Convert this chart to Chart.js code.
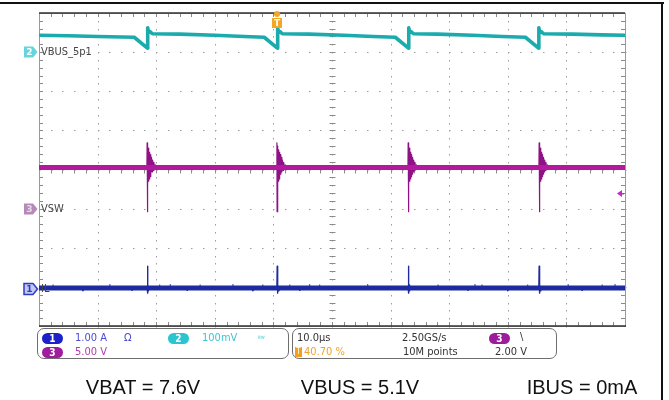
<!DOCTYPE html>
<html>
<head>
<meta charset="utf-8">
<script src="https://cdn.jsdelivr.net/npm/chart.js@4.4.0/dist/chart.umd.min.js"></script>
<style>
body { margin: 0; background: #fff; }
#wrap { position: relative; width: 669px; height: 400px; overflow: hidden; font-family: "DejaVu Sans Condensed", "DejaVu Sans", sans-serif; }
#wrap canvas { position: absolute; left: 0; top: 0; }
.frame-top { position: absolute; left: 0; top: 2px; width: 664px; border-top: 2px solid #111; }
.frame-right { position: absolute; left: 661px; top: 2px; height: 400px; border-left: 2px solid #111; }
.box { position: absolute; top: 328px; height: 29px; border: 1.5px solid #6e6e6e; border-radius: 7px; }
.t { position: absolute; font-size: 11px; line-height: 12px; white-space: nowrap; }
.oval { position: absolute; width: 21px; height: 11px; border-radius: 6px; color: #fff; font-size: 10px; line-height: 11px; text-align: center; font-weight: bold; }
.cap { position: absolute; top: 377px; width: 200px; text-align: center; font-family: "Liberation Sans", Arial, sans-serif; font-size: 20px; line-height: 20px; color: #111; }
</style>
</head>
<body>
<div id="wrap">
  <canvas id="scope" width="669" height="400"></canvas>
  <div class="frame-top"></div>
  <div class="frame-right"></div>

  <div class="box" style="left:37px;width:250px;"></div>
  <div class="oval" style="left:42px;top:333px;background:#1c22c8;">1</div>
  <div class="t" style="left:75px;top:332px;color:#4a4ad4;">1.00 A</div>
  <div class="t" style="left:124px;top:332px;color:#4a4ad4;">Ω</div>
  <div class="oval" style="left:168px;top:333px;background:#2cc4cf;">2</div>
  <div class="t" style="left:202px;top:332px;color:#3cc6d0;">100mV</div>
  <div class="t" style="left:258px;top:333px;color:#3cc6d0;font-size:7px;">ᴮᵂ</div>
  <div class="oval" style="left:42px;top:347px;background:#a01c9e;">3</div>
  <div class="t" style="left:75px;top:346px;color:#b03aae;">5.00 V</div>

  <div class="box" style="left:292px;width:263px;"></div>
  <div class="t" style="left:297px;top:332px;color:#333;">10.0µs</div>
  <div class="t" style="left:295px;top:347px;width:7px;height:10px;background:#f0a020;color:#fff;font-size:8px;line-height:10px;text-align:center;">T</div>
  <div class="t" style="left:304px;top:346px;color:#f2a22a;">40.70 %</div>
  <div class="t" style="left:402px;top:332px;color:#333;">2.50GS/s</div>
  <div class="t" style="left:403px;top:346px;color:#333;">10M points</div>
  <div class="oval" style="left:489px;top:333px;background:#9c1c9c;">3</div>
  <div class="t" style="left:520px;top:331px;color:#333;">\</div>
  <div class="t" style="left:495px;top:346px;color:#333;">2.00 V</div>

  <div class="cap" style="left:43px;">VBAT = 7.6V</div>
  <div class="cap" style="left:260px;">VBUS = 5.1V</div>
  <div class="cap" style="left:482px;">IBUS = 0mA</div>
</div>
<script>
// screen: 10 div x 10us, 8 vertical div
const timeMin = 0, timeMax = 100;
const divMin = -4, divMax = 4;

// channel 2 - VBUS_5p1 (time us, level in div)
const vbusTime = [0, 5, 10, 16.25, 18.5, 18.55, 18.7, 18.9, 19.35, 24, 30, 35,
  38.43, 40.68, 40.73, 40.88, 41.08, 41.53, 46, 52, 57,
  60.8, 63.05, 63.1, 63.25, 63.45, 63.9, 68, 74, 79,
  83.0, 85.25, 85.3, 85.45, 85.65, 86.1, 91, 96, 100];
const vbusLevel = [3.43, 3.42, 3.40, 3.38, 3.10, 3.62, 3.50, 3.53, 3.47, 3.46, 3.43, 3.40,
  3.38, 3.10, 3.62, 3.50, 3.53, 3.47, 3.46, 3.43, 3.40,
  3.38, 3.10, 3.62, 3.50, 3.53, 3.47, 3.46, 3.43, 3.40,
  3.38, 3.10, 3.62, 3.50, 3.53, 3.47, 3.46, 3.44, 3.43];

// channel 3 - VSW
const vswBase = 0.05;
const vswSpikeTime = [18.45, 40.6, 63.0, 85.35];
const vswRingOffset = [-0.04, 0, 0.03, 0.08, 0.13, 0.18, 0.24, 0.30, 0.36, 0.43, 0.50, 0.58, 0.66, 0.75, 0.84, 0.94, 1.04, 1.16, 1.28, 1.42, 1.58, 1.8];
const vswRingLevel = [0.05, 0.68, -1.08, 0.60, -0.45, 0.55, -0.30, 0.50, -0.24, 0.44, -0.18, 0.38, -0.12, 0.31, -0.06, 0.24, -0.02, 0.18, 0.02, 0.12, 0.04, 0.05];

// channel 1 - IL
const ilBase = -3.03;
const ilSpikeTime = [18.5, 40.65, 63.05, 85.35];
const ilSpikeOffset = [-0.05, 0, 0.05, 0.1, 0.18, 0.3, 0.5];
const ilSpikeLevel = [-3.03, -2.47, -3.16, -2.95, -3.10, -3.0, -3.03];
const ilGlitchTime = [2.4, 7.5, 12.1, 15.9, 20.6, 22.4, 25.3, 27.5, 33.1, 36.5, 38.2, 42.8, 44.5, 46.2, 47.9,
  56.1, 68.1, 73.2, 74.4, 75.6, 80.0, 83.4, 90.3, 92.7, 96.1, 98.3];
const ilGlitchLevel = [-2.94, -3.11, -2.93, -3.1, -2.94, -2.93, -3.1, -2.94, -2.93, -3.11, -2.94, -2.94, -3.1, -2.93, -2.94,
  -2.93, -2.94, -3.1, -2.93, -2.94, -3.11, -2.94, -2.93, -3.1, -2.94, -2.93];

// channel markers on the left edge
const markerName = ['VBUS_5p1', 'VSW', 'IL'];
const markerNum = ['2', '3', '1'];
const markerLevel = [3.0, -1.0, -3.05];
const trigTime = 40.6;
const trigLevel = -0.6;

const vbusPoints = vbusTime.map((t, i) => ({ x: t, y: vbusLevel[i] }));

function spikes(times, offs, lvls) {
  const pts = [];
  times.forEach(t => {
    offs.forEach((o, k) => pts.push({ x: t + o, y: lvls[k] }));
    pts.push({ x: t + offs[offs.length - 1] + 0.01, y: null });
  });
  return pts;
}
const vswSpikes = spikes(vswSpikeTime, vswRingOffset, vswRingLevel);
const ilSpikes = spikes(ilSpikeTime, ilSpikeOffset, ilSpikeLevel);
const ilGlitches = [];
ilGlitchTime.forEach((t, i) => {
  ilGlitches.push({ x: t, y: ilBase }, { x: t, y: ilGlitchLevel[i] }, { x: t + 0.01, y: null });
});

const scopePlugin = {
  id: 'scope',
  beforeDatasetsDraw(chart) {
    const { ctx, chartArea: a, scales: { x, y } } = chart;
    ctx.save();
    // dotted graticule
    ctx.fillStyle = '#9c9c9c';
    for (let t = 10; t < timeMax; t += 10) {
      const px = Math.round(x.getPixelForValue(t));
      for (let v = divMin; v <= divMax + 0.001; v += 0.2) {
        ctx.fillRect(px, Math.round(y.getPixelForValue(v)), 1, 1.5);
      }
    }
    for (let v = divMin + 1; v < divMax; v += 1) {
      const py = Math.round(y.getPixelForValue(v));
      for (let t = 0; t <= timeMax; t += 2) {
        ctx.fillRect(Math.round(x.getPixelForValue(t)), py, 1.5, 1);
      }
    }
    // minor ticks on frame and centre axes
    ctx.strokeStyle = '#8a8a8a';
    ctx.lineWidth = 1;
    const cx = Math.round(x.getPixelForValue(50)) + 0.5;
    const cy = Math.round(y.getPixelForValue(0)) + 0.5;
    ctx.beginPath();
    for (let t = 0; t <= timeMax; t += 2) {
      const px = Math.round(x.getPixelForValue(t)) + 0.5;
      ctx.moveTo(px, a.top); ctx.lineTo(px, a.top + 4);
      ctx.moveTo(px, a.bottom); ctx.lineTo(px, a.bottom - 4);
      ctx.moveTo(px, cy - 3); ctx.lineTo(px, cy + 3);
    }
    for (let v = divMin; v <= divMax + 0.001; v += 0.2) {
      const py = Math.round(y.getPixelForValue(v)) + 0.5;
      ctx.moveTo(a.left, py); ctx.lineTo(a.left + 4, py);
      ctx.moveTo(a.right, py); ctx.lineTo(a.right - 4, py);
      ctx.moveTo(cx - 3, py); ctx.lineTo(cx + 3, py);
    }
    ctx.stroke();
    // frame
    ctx.strokeStyle = '#9a9a9a';
    ctx.strokeRect(a.left + 0.5, a.top + 0.5, a.right - a.left, a.bottom - a.top);
    ctx.strokeStyle = '#333';
    ctx.lineWidth = 1.5;
    ctx.beginPath();
    ctx.moveTo(a.left, a.top); ctx.lineTo(a.right, a.top);
    ctx.moveTo(a.left, a.bottom); ctx.lineTo(a.right + 1, a.bottom);
    ctx.stroke();
    ctx.restore();
  },
  afterDatasetsDraw(chart) {
    const { ctx, chartArea: a, scales: { x, y } } = chart;
    ctx.save();
    const fills = ['#66d4da', '#b58ab8', '#c4c8f2'];
    const strokes = [null, null, '#2a3cc8'];
    const nums = ['#ffffff', '#e8d8ea', '#2a3cc8'];
    markerLevel.forEach((lv, i) => {
      const py = Math.round(y.getPixelForValue(lv));
      ctx.beginPath();
      ctx.moveTo(24, py - 5.5); ctx.lineTo(33, py - 5.5); ctx.lineTo(37.5, py);
      ctx.lineTo(33, py + 5.5); ctx.lineTo(24, py + 5.5); ctx.closePath();
      ctx.fillStyle = fills[i];
      ctx.fill();
      if (strokes[i]) { ctx.strokeStyle = strokes[i]; ctx.lineWidth = 1.5; ctx.stroke(); }
      ctx.fillStyle = nums[i];
      ctx.font = 'bold 9px "DejaVu Sans"';
      ctx.textAlign = 'center';
      ctx.textBaseline = 'middle';
      ctx.fillText(markerNum[i], 29.5, py + 0.5);
      ctx.fillStyle = '#444';
      ctx.font = '11px "DejaVu Sans Condensed"';
      ctx.textAlign = 'left';
      ctx.fillText(markerName[i], 41, py + 0.5);
    });
    // trigger position marker
    const tx = Math.round(x.getPixelForValue(trigTime));
    ctx.fillStyle = '#f5a623';
    ctx.beginPath();
    ctx.arc(tx, a.top + 1, 3, 0, Math.PI * 2);
    ctx.fill();
    ctx.fillRect(tx - 5, a.top + 5, 10, 10);
    ctx.fillStyle = '#fff';
    ctx.font = 'bold 9px "DejaVu Sans"';
    ctx.textAlign = 'center';
    ctx.textBaseline = 'middle';
    ctx.fillText('T', tx, a.top + 10.5);
    // trigger level arrow (ch3)
    const ly = Math.round(y.getPixelForValue(trigLevel)) + 0.5;
    ctx.fillStyle = '#c02cc0';
    ctx.beginPath();
    ctx.moveTo(a.right - 8, ly); ctx.lineTo(a.right - 3, ly - 3.5); ctx.lineTo(a.right - 3, ly + 3.5);
    ctx.closePath();
    ctx.fill();
    ctx.fillRect(a.right - 4, ly - 0.5, 3, 1.5);
    ctx.restore();
  }
};

new Chart(document.getElementById('scope'), {
  type: 'line',
  data: {
    datasets: [
      { data: vbusPoints, borderColor: '#1cabad', borderWidth: 3.6 },
      { data: [{ x: timeMin, y: vswBase }, { x: timeMax, y: vswBase }], borderColor: '#b3189f', borderWidth: 5 },
      { data: vswSpikes, borderColor: '#8e1286', borderWidth: 1.2 },
      { data: [{ x: timeMin, y: ilBase }, { x: timeMax, y: ilBase }], borderColor: '#1e2aa0', borderWidth: 5 },
      { data: ilSpikes, borderColor: '#1e2aa0', borderWidth: 1.4 },
      { data: ilGlitches, borderColor: '#1e2aa0', borderWidth: 1 }
    ]
  },
  options: {
    responsive: false,
    animation: false,
    events: [],
    layout: { padding: { left: 39, top: 13, right: 44, bottom: 74 } },
    elements: { point: { radius: 0 }, line: { tension: 0, borderJoinStyle: 'round' } },
    plugins: { legend: { display: false }, tooltip: { enabled: false } },
    scales: {
      x: { type: 'linear', min: timeMin, max: timeMax, display: false },
      y: { type: 'linear', min: divMin, max: divMax, display: false }
    }
  },
  plugins: [scopePlugin]
});
</script>
</body>
</html>
